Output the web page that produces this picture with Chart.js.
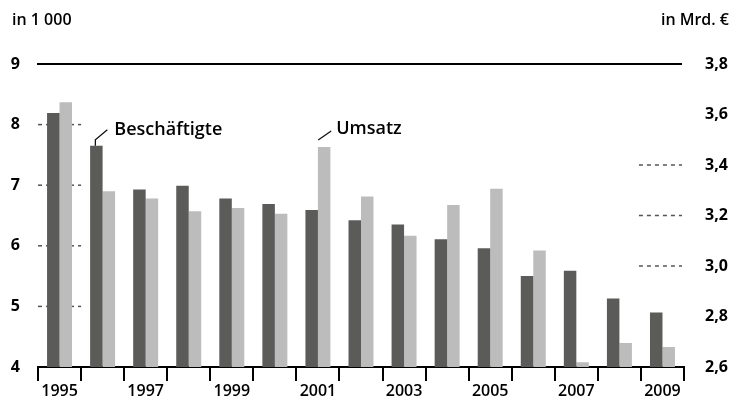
<!DOCTYPE html>
<html>
<head>
<meta charset="utf-8">
<script src="https://cdn.jsdelivr.net/npm/chart.js@4/dist/chart.umd.min.js"></script>
<style>
html,body{margin:0;padding:0;background:#fff;}
canvas{display:block;}
</style>
</head>
<body>
<canvas id="c" width="733" height="403"></canvas>
<script>
const years = ['1995','1996','1997','1998','1999','2000','2001','2002','2003','2004','2005','2006','2007','2008','2009'];
const beschaeftigte = [8.19, 7.65, 6.93, 6.99, 6.78, 6.69, 6.59, 6.42, 6.35, 6.11, 5.96, 5.50, 5.59, 5.13, 4.90];
const umsatz = [3.649, 3.296, 3.267, 3.217, 3.23, 3.207, 3.471, 3.275, 3.12, 3.242, 3.306, 3.061, 2.619, 2.695, 2.679];
const leftTicks = {min: 4, max: 9, step: 1};
const rightTicks = {min: 2.6, max: 3.8, step: 0.2};
const leftStubValues = [5, 6, 7, 8];
const rightStubValues = [3.0, 3.2, 3.4];
const leftUnit = 'in 1 000';
const rightUnit = 'in Mrd. €';
const seriesNames = ['Beschäftigte', 'Umsatz'];

const FONT = "'Open Sans', sans-serif";
const TXT = '#000';

const decor = {
  id: 'decor',
  beforeDatasetsDraw(chart) {
    const ctx = chart.ctx;
    const ca = chart.chartArea;
    const x = chart.scales.x, yl = chart.scales.y, yr = chart.scales.y1;
    const catW = (x.getPixelForValue(1) - x.getPixelForValue(0));
    ctx.save();
    ctx.strokeStyle = '#000';
    ctx.lineWidth = 2;
    ctx.beginPath();
    const yt = yl.getPixelForValue(leftTicks.max);
    ctx.moveTo(ca.left - 1, yt);
    ctx.lineTo(ca.right - 2, yt);
    ctx.stroke();
    ctx.strokeStyle = '#555';
    ctx.lineWidth = 1.5;
    ctx.setLineDash([4, 4]);
    const x0 = x.getPixelForValue(0) - catW / 2;
    leftStubValues.forEach(v => {
      const yy = yl.getPixelForValue(v);
      ctx.beginPath();
      ctx.moveTo(x0, yy);
      ctx.lineTo(x0 + catW, yy);
      ctx.stroke();
    });
    const xl = x.getPixelForValue(years.length - 1) - catW / 2;
    rightStubValues.forEach(v => {
      const yy = yr.getPixelForValue(v);
      ctx.beginPath();
      ctx.moveTo(xl - 2, yy);
      ctx.lineTo(xl + catW - 2, yy);
      ctx.stroke();
    });
    ctx.restore();
  },
  afterDraw(chart) {
    const ctx = chart.ctx;
    ctx.save();
    ctx.fillStyle = TXT;
    ctx.font = '600 16px ' + FONT;
    ctx.textBaseline = 'middle';
    ctx.textAlign = 'left';
    ctx.fillText(leftUnit, 12, 20);
    ctx.textAlign = 'right';
    ctx.fillText(rightUnit, 729, 20);
    const b = chart.getDatasetMeta(0).data[1];
    const u = chart.getDatasetMeta(1).data[6];
    ctx.strokeStyle = '#111';
    ctx.lineWidth = 1.3;
    ctx.beginPath();
    ctx.moveTo(b.x - 1, b.y);
    ctx.lineTo(b.x - 1, b.y - 6);
    ctx.lineTo(b.x + 11, b.y - 16);
    ctx.stroke();
    ctx.font = '600 18px ' + FONT;
    ctx.textAlign = 'left';
    ctx.fillText(seriesNames[0], b.x + 18, b.y - 16);
    ctx.beginPath();
    ctx.moveTo(u.x - 6, u.y - 7);
    ctx.lineTo(u.x + 7, u.y - 16);
    ctx.stroke();
    ctx.fillText(seriesNames[1], u.x + 12, u.y - 18);
    ctx.restore();
  }
};

new Chart(document.getElementById('c'), {
  type: 'bar',
  data: {
    labels: years,
    datasets: [
      { label: seriesNames[0], data: beschaeftigte, yAxisID: 'y', backgroundColor: '#5b5b59', borderWidth: 0 },
      { label: seriesNames[1], data: umsatz, yAxisID: 'y1', backgroundColor: '#bbbcbb', borderWidth: 0 }
    ]
  },
  options: {
    responsive: false,
    animation: false,
    devicePixelRatio: 1,
    categoryPercentage: 0.58,
    barPercentage: 1.0,
    layout: { padding: { top: 64, left: 0, right: 0, bottom: 0 } },
    plugins: { legend: { display: false }, tooltip: { enabled: false }, title: { display: false } },
    scales: {
      x: {
        offset: true,
        grid: { offset: true, drawOnChartArea: false, drawTicks: true, tickLength: 14, color: '#000', lineWidth: 2 },
        border: { display: true, color: '#000', width: 2 },
        ticks: {
          autoSkip: false, maxRotation: 0, padding: 1, color: TXT,
          font: { family: FONT, size: 16, weight: '600' },
          callback: function(v, i) { return i % 2 === 0 ? this.getLabelForValue(v) : ''; }
        },
        afterFit: s => { s.height = 36; }
      },
      y: {
        position: 'left',
        min: leftTicks.min, max: leftTicks.max,
        grid: { display: false, drawTicks: false },
        border: { display: false },
        ticks: { stepSize: leftTicks.step, padding: 18, color: TXT, font: { family: FONT, size: 16, weight: 'bold' } },
        afterFit: s => { s.width = 38; }
      },
      y1: {
        position: 'right',
        min: rightTicks.min, max: rightTicks.max,
        grid: { display: false, drawTicks: false },
        border: { display: false },
        ticks: {
          stepSize: rightTicks.step, padding: 21, color: TXT, font: { family: FONT, size: 16, weight: 'bold' },
          callback: v => v.toFixed(1).replace('.', ',')
        },
        afterFit: s => { s.width = 49; }
      }
    }
  },
  plugins: [decor]
});
</script>
</body>
</html>
